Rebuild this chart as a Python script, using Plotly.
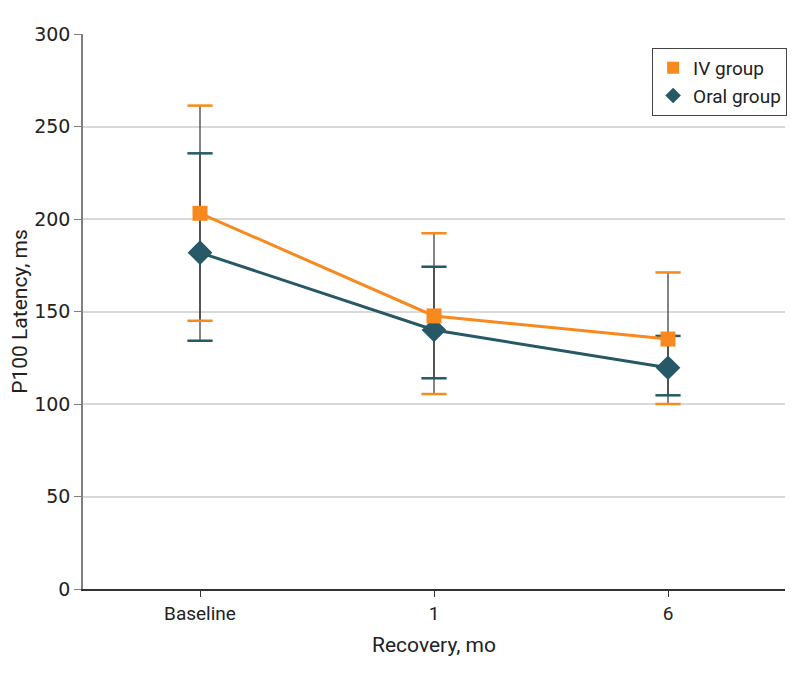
import plotly.graph_objects as go

categories = ["Baseline", "1", "6"]
x_pos = [0, 1, 2]

iv_mean = [203.1, 147.6, 135.1]
iv_err_plus = [58.2, 44.7, 36.0]
iv_err_minus = [58.1, 42.2, 35.1]

oral_mean = [181.8, 140.0, 119.6]
oral_err_plus = [53.7, 34.2, 17.2]
oral_err_minus = [47.6, 26.1, 14.9]

y_ticks = [0, 50, 100, 150, 200, 250, 300]

ORANGE = "#F7891E"
TEAL = "#265866"
STEM = "#333333"
FONT = "Roboto, Liberation Sans, sans-serif"

fig = go.Figure()

# error stems (thin dark, no caps)
for mean, ep, em in [(iv_mean, iv_err_plus, iv_err_minus), (oral_mean, oral_err_plus, oral_err_minus)]:
    fig.add_trace(go.Scatter(
        x=x_pos, y=mean, mode="markers", marker=dict(size=1, opacity=0),
        error_y=dict(type="data", symmetric=False, array=ep, arrayminus=em,
                     color=STEM, thickness=1.2, width=0),
        showlegend=False, hoverinfo="skip"))

# caps (coloured)
for mean, ep, em, col in [(iv_mean, iv_err_plus, iv_err_minus, ORANGE),
                          (oral_mean, oral_err_plus, oral_err_minus, TEAL)]:
    cap_x = x_pos + x_pos
    cap_y = [m + p for m, p in zip(mean, ep)] + [m - n for m, n in zip(mean, em)]
    fig.add_trace(go.Scatter(
        x=cap_x, y=cap_y, mode="markers",
        marker=dict(symbol="line-ew-open", size=18, color=col,
                    line=dict(color=col, width=2.5)),
        showlegend=False, hoverinfo="skip"))

fig.add_trace(go.Scatter(
    x=x_pos, y=oral_mean, mode="lines+markers", name="Oral group",
    line=dict(color=TEAL, width=3),
    marker=dict(symbol="diamond", size=19, color=TEAL), showlegend=False))
fig.add_trace(go.Scatter(
    x=x_pos, y=iv_mean, mode="lines+markers", name="IV group",
    line=dict(color=ORANGE, width=3),
    marker=dict(symbol="square", size=15, color=ORANGE), showlegend=False))

# legend entries (markers only)
fig.add_trace(go.Scatter(x=[None], y=[None], mode="markers", name="IV group",
                         marker=dict(symbol="square", size=15, color=ORANGE)))
fig.add_trace(go.Scatter(x=[None], y=[None], mode="markers", name="Oral group",
                         marker=dict(symbol="diamond", size=19, color=TEAL)))

fig.update_layout(
    width=790, height=667,
    margin=dict(l=75, r=13, t=26, b=86, autoexpand=False),
    plot_bgcolor="white", paper_bgcolor="white",
    font=dict(family=FONT, size=19, color="#222"),
    legend=dict(x=1.003, xanchor="right", y=0.975, yanchor="top",
                bordercolor="#444", borderwidth=1, bgcolor="white",
                font=dict(family=FONT, size=19, color="#222"),
                itemsizing="constant", tracegroupgap=0, itemwidth=30),
    showlegend=True,
)
fig.update_xaxes(
    range=[-0.5, 2.5], tickmode="array", tickvals=x_pos, ticktext=categories,
    showline=True, linecolor="#333", linewidth=1.5,
    ticks="outside", ticklen=6, tickcolor="#333", tickwidth=1,
    showgrid=False, zeroline=False, automargin=False,
    tickfont=dict(family=FONT, size=19),
    title=dict(text="Recovery, mo", font=dict(family=FONT, size=21), standoff=14),
)
fig.update_yaxes(
    range=[0, 300], tickmode="array", tickvals=y_ticks,
    showline=True, linecolor="#7f7f7f", linewidth=1.5,
    ticks="outside", ticklen=7, tickcolor="#7f7f7f", tickwidth=1,
    showgrid=True, gridcolor="#d9d9d9", gridwidth=1.5, zeroline=False, automargin=False,
    tickfont=dict(family="DejaVu Sans, sans-serif", size=19),
    title=dict(text="P100 Latency, ms", font=dict(family=FONT, size=21), standoff=12),
)

fig.write_html("out.html")
